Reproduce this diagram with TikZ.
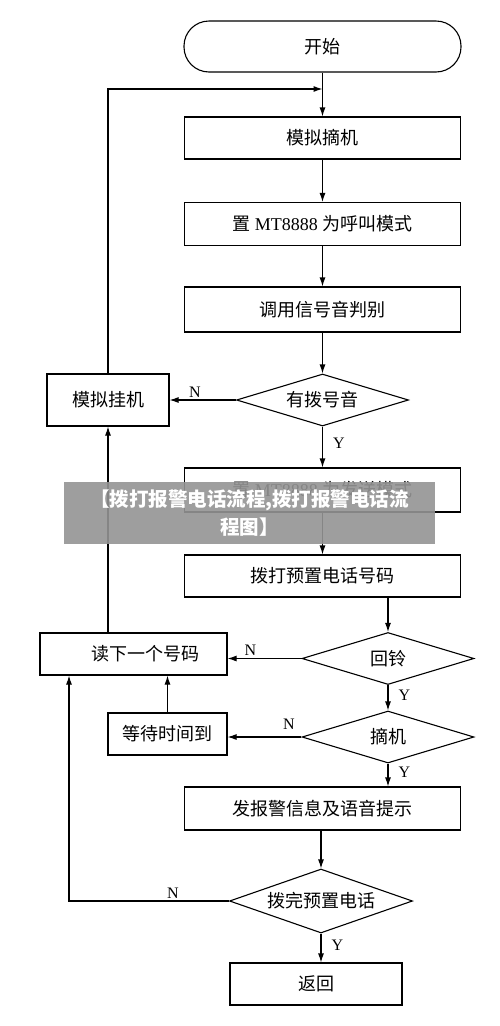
\documentclass[tikz,border=0pt]{standalone}
\usepackage{fontspec}
\setmainfont{Liberation Serif}
\newfontfamily\cjk{Noto Sans CJK SC}
\usepackage{tikz}
\usetikzlibrary{calc,positioning,arrows.meta,shapes.geometric}

\begin{document}
\begin{tikzpicture}[x=1pt, y=-1pt, line width=1.1pt]
  \useasboundingbox (0,0) rectangle (500,1026);

  % ---- Styles ------------------------------------------------
  \tikzstyle{proc}=[draw, rectangle, minimum width=276pt, minimum height=42pt,
                    inner sep=0pt, font=\fontsize{18}{20}\selectfont\cjk]
  \tikzstyle{decide}=[draw, diamond, aspect=3.3, minimum width=172pt, minimum height=52pt,
                      inner sep=0pt, font=\fontsize{18}{20}\selectfont\cjk]
  \tikzstyle{flow}=[-{Latex[length=9pt,width=6pt]}]
  \tikzstyle{yn}=[font=\fontsize{16}{18}\selectfont, inner sep=2pt]

  % ---- Main column ------------------------------------------
  \node[proc, rounded corners=25pt, minimum width=277pt, minimum height=51pt]
        (start) at (322.5, 46.5) {开始};
  \node[proc] (offhook)  at (322.5, 138) {模拟摘机};
  \node[proc, minimum height=43pt] (callmode) at (322.5, 224)
        {{\cjk 置} \fontspec{Liberation Serif}MT8888 {\cjk 为呼叫模式}};
  \node[proc, minimum height=45pt] (tonechk) at (322.5, 309.5) {调用信号音判别};
  \node[decide] (dialtone) at (322.5, 400) {有拨号音};
  \node[proc, minimum height=44pt] (sendmode) at (322.5, 490)
        {{\cjk 置} \fontspec{Liberation Serif}MT8888 {\cjk 为发送模式}};
  \node[proc] (dialnum)  at (322.5, 576) {拨打预置电话号码};
  \node[decide] (ring)     at (388, 658.5) {回铃};
  \node[decide] (pickup)   at (388, 737) {摘机};
  \node[proc, minimum height=43pt] (alarm) at (322.5, 808.5) {发报警信息及语音提示};
  \node[decide, aspect=2.86, minimum width=183pt, minimum height=64pt]
        (alldone) at (321, 901) {拨完预置电话};
  \node[proc, minimum width=172pt] (back) at (316, 984) {返回};

  % ---- Side boxes -------------------------------------------
  \node[proc, minimum width=122pt, minimum height=52pt] (hangup) at (108, 400) {模拟挂机};
  \node[proc, minimum width=187pt] (nextnum) at (133.5, 654) {\hspace*{24pt}读下一个号码};
  \node[proc, minimum width=119pt] (waitend) at (167.5, 734) {等待时间到};

  \coordinate (loopin) at (322.5, 89);
  \coordinate (leftrun) at (69, 901);

  % ---- Connectors -------------------------------------------
  \draw[flow] (start) -- (offhook);
  \draw[flow] (offhook) -- (callmode);
  \draw[flow] (callmode) -- (tonechk);
  \draw[flow] (tonechk) -- (dialtone);
  \draw[flow] (dialtone.west) -- node[yn, above, pos=0.62] {N} (hangup.east);
  \draw[flow] (dialtone.south) -- node[yn, right=8pt, pos=0.4] {Y} (sendmode.north);
  \draw[flow] (sendmode) -- (dialnum);
  \draw[flow] (ring.north |- dialnum.south) -- (ring.north);
  \draw[flow] (ring.west) -- node[yn, above, pos=0.69] {N} (nextnum.east |- ring.west);
  \draw[flow] (ring.south) -- node[yn, right=8pt, pos=0.4] {Y} (pickup.north);
  \draw[flow] (pickup.west) -- node[yn, above=5pt, pos=0.17] {N} (waitend.east |- pickup.west);
  \draw[flow] (pickup.south) -- node[yn, right=8pt, pos=0.4] {Y} (pickup.south |- alarm.north);
  \draw[flow] (waitend.north) -- (waitend.north |- nextnum.south);
  \draw[flow] (alarm.south -| alldone.north) -- (alldone.north);
  \draw[flow] (alldone.south) -- node[yn, right=8pt, pos=0.4] {Y} (alldone.south |- back.north);
  \draw[flow] (alldone.west) -- node[yn, above, pos=0.35] {N} (leftrun)
              -- (leftrun |- nextnum.south);
  \draw[flow] (hangup.south |- nextnum.north) -- (hangup.south);
  \draw[flow] (hangup.north) |- (loopin);

  % ---- Caption banner over the picture ----------------------
  \node[fill=black!42, fill opacity=0.9, text opacity=1, text=white,
        minimum width=371pt, minimum height=62pt, inner sep=0pt, align=center,
        font=\fontsize{19.5}{28}\selectfont\cjk\bfseries]
        (banner) at (249.5, 513) {【拨打报警电话流程,拨打报警电话流\\程图】};

\end{tikzpicture}
\end{document}
